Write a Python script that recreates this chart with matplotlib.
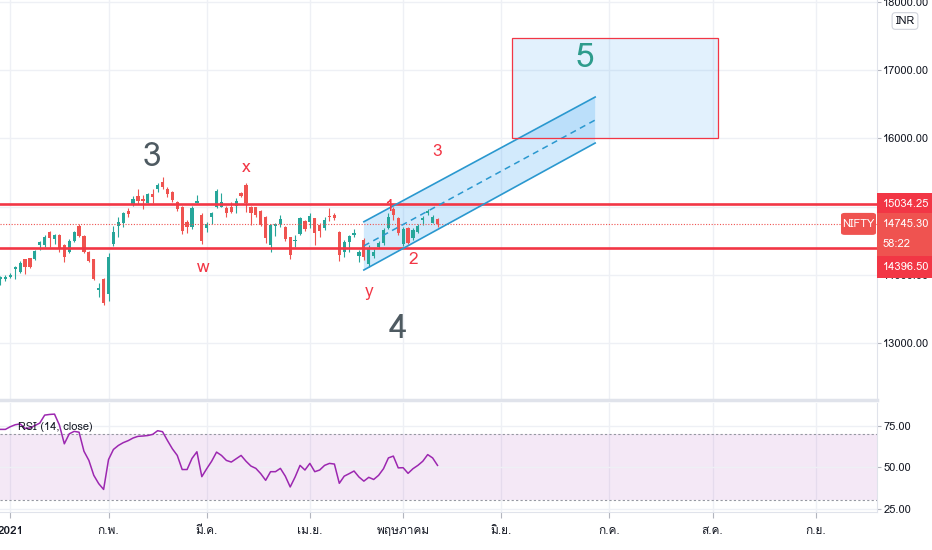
import matplotlib
matplotlib.use('Agg')
import matplotlib.pyplot as plt
import numpy as np
from matplotlib import font_manager
from matplotlib.ft2font import FT2Font
from matplotlib.patches import Rectangle, Polygon, FancyBboxPatch

# ---- data ----
bar_index = list(range(-2, 88))
opens = [13933, 13938, 13967, 14084, 14045, 14226, 14241, 14226, 14441, 14436,
         14631, 14524, 14582, 14436, 14338, 14500, 14719, 14568, 14338, 14226,
         13777, 13933, 13718, 14451, 14719, 14763, 14939, 15037, 15154, 15105,
         15057, 15183, 15252, 15359, 15262, 15218, 15071, 14988, 14778, 14695,
         15057, 14876, 14680, 14851, 14988, 14998, 14973, 14988, 15008, 15203,
         15315, 14998, 14988, 14939, 14851, 14436, 14714, 14744, 14695, 14548,
         14490, 14597, 14792, 14778, 14827, 14729, 14680, 14861, 14876, 14631,
         14338, 14485, 14582, 14275, 14510, 14158, 14275, 14402, 14460, 14680,
         14959, 14827, 14451, 14680, 14534, 14631, 14802, 14910, 14763, 14812]
highs = [13982, 13997, 14031, 14124, 14206, 14236, 14250, 14363, 14490, 14582,
         14646, 14597, 14597, 14450, 14519, 14646, 14744, 14580, 14350, 14236,
         13875, 13953, 14314, 14714, 14851, 14924, 14973, 15154, 15252, 15169,
         15193, 15252, 15340, 15437, 15291, 15232, 15086, 15008, 14800, 15008,
         15169, 14900, 14778, 14924, 15252, 15193, 15008, 15071, 15120, 15218,
         15340, 15008, 15000, 14949, 14861, 14744, 14754, 14876, 14710, 14558,
         14582, 14851, 14802, 14900, 14837, 14754, 14851, 14973, 14910, 14646,
         14510, 14582, 14666, 14363, 14534, 14436, 14372, 14500, 14680, 14900,
         14988, 14851, 14705, 14705, 14680, 14744, 14861, 14959, 14876, 14827]
lows = [13850, 13909, 13953, 13933, 14021, 14011, 14100, 14211, 14363, 14412,
        14402, 14451, 14338, 14192, 14324, 14485, 14558, 14314, 14192, 13928,
        13670, 13557, 13621, 14421, 14558, 14705, 14851, 15008, 15037, 14959,
        15047, 15057, 15218, 15252, 15144, 15066, 14939, 14597, 14616, 14666,
        15047, 14451, 14631, 14744, 14973, 14988, 14851, 14900, 14900, 15144,
        14924, 14729, 14851, 14710, 14460, 14338, 14568, 14705, 14500, 14226,
        14402, 14582, 14646, 14680, 14436, 14558, 14656, 14793, 14802, 14206,
        14255, 14338, 14558, 14192, 14216, 14119, 14241, 14387, 14436, 14666,
        14802, 14582, 14421, 14451, 14509, 14607, 14729, 14876, 14753, 14695]
closes = [13972, 13967, 13997, 14114, 14177, 14109, 14109, 14348, 14475, 14553,
          14533, 14582, 14387, 14255, 14500, 14631, 14568, 14338, 14206, 13933,
          13806, 13591, 14255, 14631, 14778, 14900, 14890, 15105, 15086, 15086,
          15178, 15135, 15315, 15281, 15183, 15096, 14959, 14646, 14695, 14973,
          15086, 14500, 14744, 14910, 15232, 15071, 14910, 14924, 15086, 15154,
          15047, 14910, 14876, 14729, 14534, 14729, 14739, 14812, 14519, 14290,
          14510, 14827, 14666, 14861, 14617, 14646, 14802, 14841, 14827, 14290,
          14485, 14568, 14607, 14338, 14255, 14387, 14338, 14470, 14656, 14851,
          14876, 14607, 14666, 14470, 14656, 14714, 14827, 14939, 14851, 14745.30]
rsi = [72.7, 72.7, 74.3, 75.5, 76.0, 73.3, 73.5, 75.0, 76.5, 81.3,
       81.7, 81.9, 75.3, 64.0, 70.0, 71.5, 71.0, 59.5, 54.0, 45.0,
       40.0, 36.5, 54.5, 60.6, 63.0, 64.7, 65.9, 67.5, 68.5, 68.7,
       69.0, 69.7, 71.9, 71.3, 66.0, 61.0, 57.0, 48.5, 48.5, 55.2,
       59.2, 44.2, 49.0, 53.5, 59.0, 57.0, 54.0, 53.0, 55.0, 57.0,
       53.5, 50.6, 49.2, 46.0, 42.0, 47.2, 47.2, 49.2, 44.5, 38.0,
       44.0, 51.0, 48.2, 52.2, 47.2, 48.2, 51.0, 52.2, 51.8, 40.2,
       44.5, 46.0, 47.6, 44.0, 41.5, 43.8, 42.5, 45.0, 49.0, 55.5,
       56.6, 49.5, 49.6, 46.2, 49.0, 51.0, 53.5, 57.5, 55.5, 51.0]

month_ticks = [0, 20, 40, 61, 80, 100, 122, 143, 164]
month_labels = ['2021', 'ก.พ.', 'มี.ค.', 'เม.ย.', 'พฤษภาคม', 'มิ.ย.', 'ก.ค.', 'ส.ค.', 'ก.ย.']
price_ticks = [13000, 14000, 15000, 16000, 17000, 18000]
hidden_price_ticks = [15000]   # covered by the 15034.25 label in the reference
rsi_ticks = [25, 50, 75]

resistance = 15034.25
support = 14396.50
last_price = 14745.30
countdown = '58:22'
symbol = 'NIFTY'
currency = 'INR'

# parallel channel (bar index, price)
channel_x = [72.0, 119.1]
channel_upper = [14777, 16604]
channel_lower = [14070, 15930]
# target box
target_x = [102.2, 144.1]
target_y = [16004, 17469]

# wave labels: text, bar index, price, kind
wave_labels = [
    ('3', 28.9, 15725, 'big'),
    ('4', 79.0, 13200, 'big'),
    ('5', 117.0, 17170, 'target'),
    ('x', 48.0, 15564, 'small'),
    ('w', 39.2, 14100, 'small'),
    ('y', 73.1, 13750, 'small'),
    ('3', 86.9, 15800, 'small'),
    ('1', 77.1, 14990, 'small'),
    ('2', 82.0, 14216, 'small'),
]


def find_thai_font():
    for f in font_manager.fontManager.ttflist:
        try:
            if 0x0E01 in FT2Font(f.fname).get_charmap():
                return f.name
        except Exception:
            pass
    return None


names = {f.name for f in font_manager.fontManager.ttflist}
families = []
if 'Liberation Sans Narrow' in names:
    families.append('Liberation Sans Narrow')
thai = find_thai_font()
if thai:
    families.append(thai)
families.append('DejaVu Sans')
plt.rcParams['font.family'] = families

UP = '#26a69a'
DOWN = '#ef5350'
RED = '#f23645'
GRID = '#eef0f5'
TXT = '#131722'
LAB = 8

W, H = 932, 550
fig = plt.figure(figsize=(W / 100, H / 100), dpi=100)
ax = fig.add_axes([0, 1 - 400 / H, 877 / W, 400 / H])
ax2 = fig.add_axes([0, (H - 512) / H, 877 / W, (512 - 403) / H], sharex=ax)

xmin, xmax = -2.1, 176.5
ax.set_xlim(xmin, xmax)
ax.set_ylim(12165, 18026)
ax2.set_ylim(22.9, 88.6)

for a in (ax, ax2):
    for s in ['top', 'left']:
        a.spines[s].set_visible(False)
    a.spines['right'].set_color('#e0e3eb')
    a.spines['bottom'].set_color('#e0e3eb')
    a.yaxis.tick_right()
    a.tick_params(axis='y', length=3, width=0.8, color='#b2b5be', pad=1.5,
                  labelsize=LAB, labelcolor=TXT)
    for t in month_ticks:
        a.axvline(t, color=GRID, lw=1, zorder=0)
ax.spines['bottom'].set_linewidth(2.5)
ax.tick_params(axis='x', bottom=False, labelbottom=False)

# price panel
ax.set_yticks(price_ticks)
ax.set_yticklabels(['' if p in hidden_price_ticks else '%.2f' % p for p in price_ticks])
for p in price_ticks:
    ax.axhline(p, color=GRID, lw=1, zorder=0)

o = np.array(opens)
c = np.array(closes)
hi = np.array(highs)
lo = np.array(lows)
idx = np.array(bar_index)
colors = np.where(c >= o, UP, DOWN)
ax.vlines(idx, lo, hi, colors=colors, lw=0.8, zorder=3)
body = np.maximum(np.abs(c - o), 12)
ax.bar(idx, body, bottom=np.minimum(o, c), width=0.66, color=colors, zorder=4)

ax.axhline(resistance, color=RED, lw=1.9, zorder=5)
ax.axhline(support, color=RED, lw=1.9, zorder=5)
ax.axhline(last_price, color=DOWN, lw=0.8, ls=(0, (1, 1.5)), zorder=5)

# channel
poly = Polygon([(channel_x[0], channel_lower[0]), (channel_x[1], channel_lower[1]),
                (channel_x[1], channel_upper[1]), (channel_x[0], channel_upper[0])],
               closed=True, facecolor='#2196f3', alpha=0.2, edgecolor='none', zorder=2)
ax.add_patch(poly)
ax.plot(channel_x, channel_upper, color='#2a98cf', lw=1.2, zorder=6)
ax.plot(channel_x, channel_lower, color='#2a98cf', lw=1.2, zorder=6)
mid = [(u + l) / 2 for u, l in zip(channel_upper, channel_lower)]
ax.plot(channel_x, mid, color='#2a98cf', lw=1.1, ls=(0, (4, 3)), zorder=6)

# target box
ax.add_patch(Rectangle((target_x[0], target_y[0]), target_x[1] - target_x[0],
                       target_y[1] - target_y[0], facecolor='#2196f3', alpha=0.13,
                       edgecolor='none', zorder=2))
ax.add_patch(Rectangle((target_x[0], target_y[0]), target_x[1] - target_x[0],
                       target_y[1] - target_y[0], facecolor='none',
                       edgecolor=RED, lw=0.9, zorder=6))

for text, xi, yp, kind in wave_labels:
    if kind == 'big':
        ax.text(xi, yp, text, fontsize=24, color='#4e5a61', ha='center', va='center', zorder=7)
    elif kind == 'target':
        ax.text(xi, yp, text, fontsize=24, color='#2e9c8c', ha='center', va='center', zorder=7)
    else:
        ax.text(xi, yp, text, fontsize=12.5, color=RED, ha='center', va='center', zorder=7)


# price scale labels, placed in pixels from the price they mark
def py(price):
    return ax.transData.transform((0, price))[1]


def pix_box(x0, ytop, w, h, color, rounded=False):
    if rounded:
        patch = FancyBboxPatch((x0 / W, (ytop - h) / H), w / W, h / H,
                               boxstyle='round,pad=0,rounding_size=0.004',
                               transform=fig.transFigure, fc=color, ec='none', zorder=20)
    else:
        patch = Rectangle((x0 / W, (ytop - h) / H), w / W, h / H,
                          transform=fig.transFigure, fc=color, ec='none', zorder=20)
    fig.add_artist(patch)


x_scale = 877
box_w = W - x_scale

y_res = py(resistance)
pix_box(x_scale, y_res + 11, box_w, 22, RED)
fig.text((x_scale + 6) / W, y_res / H, '%.2f' % resistance, ha='left', va='center',
         fontsize=LAB, color='white', zorder=21)

y_last = py(last_price)
pix_box(x_scale, y_last + 11, box_w, 43, DOWN)
fig.text((x_scale + 6) / W, y_last / H, '%.2f' % last_price, ha='left', va='center',
         fontsize=LAB, color='white', zorder=21)
fig.text((x_scale + 6) / W, (y_last - 20) / H, countdown, ha='left', va='center',
         fontsize=LAB, color='white', zorder=21)
pix_box(x_scale - 36, y_last + 11, 35, 22, DOWN, rounded=True)
fig.text((x_scale - 18.5) / W, y_last / H, symbol, ha='center', va='center',
         fontsize=LAB, color='white', zorder=21)

# support label is pushed below the last-price label
y_sup = y_last + 11 - 43
pix_box(x_scale, y_sup, box_w, 22, RED)
fig.text((x_scale + 6) / W, (y_sup - 11) / H, '%.2f' % support, ha='left', va='center',
         fontsize=LAB, color='white', zorder=21)

fig.text(905 / W, 1 - 21 / H, currency, ha='center', va='center', fontsize=LAB, color=TXT,
         bbox=dict(boxstyle='round,pad=0.3', fc='white', ec='#d1d4dc', lw=0.8))

# RSI panel
ax2.axhspan(30, 70, color='#9c27b0', alpha=0.1, lw=0, zorder=0)
ax2.axhline(70, color='#9598a1', lw=0.8, ls=(0, (2, 2)), zorder=1)
ax2.axhline(30, color='#9598a1', lw=0.8, ls=(0, (2, 2)), zorder=1)
for v in rsi_ticks:
    ax2.axhline(v, color=GRID, lw=1, zorder=0)
ax2.plot(bar_index, rsi, color='#9c27b0', lw=1.1, zorder=3)
ax2.set_yticks(rsi_ticks)
ax2.set_yticklabels(['%.2f' % v for v in rsi_ticks])
ax2.text(1.5, 74, 'RSI (14, close)', fontsize=LAB, color=TXT, ha='left', va='center', zorder=4)

ax2.set_xticks(month_ticks)
ax2.set_xticklabels(month_labels)
ax2.tick_params(axis='x', length=4, color='#b2b5be', labelsize=8.5, labelcolor=TXT, pad=6)
ax2.get_xticklabels()[0].set_fontweight('bold')

fig.savefig('out.png', dpi=100, facecolor='white')
